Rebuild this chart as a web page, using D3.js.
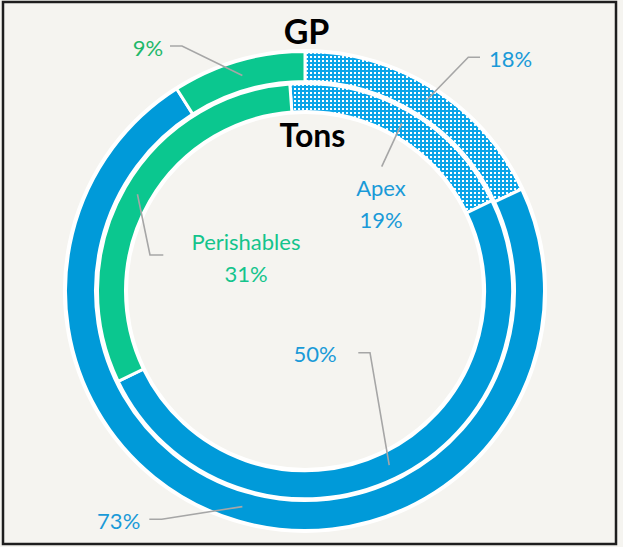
<!DOCTYPE html>
<html>
<head>
<meta charset="utf-8">
<script src="https://cdn.jsdelivr.net/npm/d3@7"></script>
<style>
  html, body { margin: 0; padding: 0; background: #f5f4f0; }
  svg { display: block; }
  text { font-family: Lato, "Open Sans", sans-serif; }
</style>
</head>
<body>
<script>
// ---------- data ----------
const categories = ["Apex", "Other", "Perishables"];
const gpValues   = [18, 73, 9];    // outer ring (GP)
const tonsValues = [19, 50, 31];   // inner ring (Tons)
const ringTitles = ["GP", "Tons"];
const gpLabels   = ["18%", "73%", "9%"];
const tonsLabels = [["Apex", "19%"], ["50%"], ["Perishables", "31%"]];

// ---------- layout ----------
const W = 623, H = 547;
const cx = 305, cy = 291;
const outerR = [209.5, 239.5];
const innerR = [179.5, 207.5];
const innerStart = -4.2 * Math.PI / 180;

const colors = { Apex: "url(#apexPattern)", Other: "#009ad9", Perishables: "#0bc78f" };
const textColors = { Apex: "#1a9ad8", Other: "#1a9ad8", Perishables: "#14c48c" };
const leaderColor = "#a6a6a6";

const svg = d3.select("body").append("svg").attr("width", W).attr("height", H);

// pattern for Apex
const defs = svg.append("defs");
const pat = defs.append("pattern").attr("id", "apexPattern")
  .attr("patternUnits", "userSpaceOnUse").attr("width", 4).attr("height", 4);
pat.append("rect").attr("width", 4).attr("height", 4).attr("fill", "#0aa4e8");
pat.append("rect").attr("x", 1).attr("y", 1).attr("width", 2).attr("height", 2).attr("fill", "#ffffff");

// border
svg.append("rect").attr("x", 3).attr("y", 2).attr("width", 613).attr("height", 542)
  .attr("fill", "#f5f4f0").attr("stroke", "#1e1e1e").attr("stroke-width", 2.5);

const g = svg.append("g").attr("transform", `translate(${cx},${cy})`);

// white backing annulus
g.append("path")
  .attr("d", d3.arc()({ innerRadius: 177, outerRadius: 242, startAngle: 0, endAngle: 2 * Math.PI }))
  .attr("fill", "#ffffff");

function ring(values, radii, start) {
  const pie = d3.pie().sort(null).value(d => d)
    .startAngle(start).endAngle(start + 2 * Math.PI);
  const arcs = pie(values);
  const arc = d3.arc().innerRadius(radii[0]).outerRadius(radii[1]);
  g.selectAll(null).data(arcs).enter().append("path")
    .attr("d", arc)
    .attr("fill", (d, i) => colors[categories[i]])
    .attr("stroke", "#ffffff").attr("stroke-width", 3).attr("stroke-linejoin", "miter");
  return arcs.map(a => {
    const m = (a.startAngle + a.endAngle) / 2;
    const r = (radii[0] + radii[1]) / 2;
    return [cx + r * Math.sin(m), cy - r * Math.cos(m)];
  });
}

const outerC = ring(gpValues, outerR, 0);
const innerC = ring(tonsValues, innerR, innerStart);

// ---------- labels ----------
// label placement: text anchor (middle) + leader start / elbow points
const outerPlace = [
  { x: 510.5, y: 67,  lead: [[480, 57.3], [468.3, 57.3]] },
  { x: 118.7, y: 529, lead: [[149.3, 519.3], [161.7, 519.3]] },
  { x: 148,   y: 56,  lead: [[170, 46], [182, 46]] }
];
const innerPlace = [
  { x: 381, y: 196, lead: [[381.7, 166.7]] },
  { x: 315, y: 361.7, lead: [[358.3, 352.7], [370, 352.7]] },
  { x: 246, y: 250, lead: [[163.3, 255], [150, 255]] }
];
const lineGap = 32;

function drawLabels(labels, places, centroids) {
  labels.forEach((lab, i) => {
    const p = places[i];
    const pts = p.lead.concat([centroids[i]]);
    svg.append("path")
      .attr("d", d3.line()(pts))
      .attr("fill", "none").attr("stroke", leaderColor).attr("stroke-width", 1.6);
    const lines = Array.isArray(lab) ? lab : [lab];
    lines.forEach((t, k) => {
      svg.append("text")
        .attr("x", p.x).attr("y", p.y + k * lineGap)
        .attr("text-anchor", "middle")
        .attr("font-size", 22)
        .attr("fill", textColors[categories[i]])
        .text(t);
    });
  });
}
drawLabels(gpLabels, outerPlace, outerC);
drawLabels(tonsLabels, innerPlace, innerC);

// "9%" label is a deeper green in the reference
svg.selectAll("text").filter(function () { return d3.select(this).text() === "9%"; })
  .attr("fill", "#1fb86a");

// ring titles
svg.append("text").attr("x", 306.5).attr("y", 43.5).attr("text-anchor", "middle")
  .attr("font-size", 34).attr("font-weight", 700).attr("fill", "#000").text(ringTitles[0]);
svg.append("text").attr("x", 312.5).attr("y", 146.5).attr("text-anchor", "middle")
  .attr("font-size", 32).attr("font-weight", 700).attr("fill", "#000").text(ringTitles[1]);
</script>
</body>
</html>
